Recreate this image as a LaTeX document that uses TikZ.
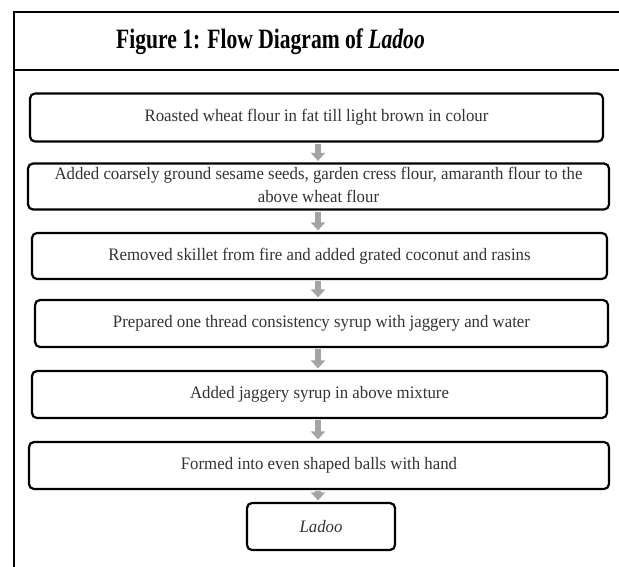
\documentclass[tikz,border=0pt]{standalone}
\usepackage{fontspec}
\setmainfont{Liberation Serif}
\newfontfamily\titlefont[FakeStretch=0.77]{Liberation Serif}
\newfontfamily\boxfont[FakeStretch=0.96]{Liberation Serif}
\usetikzlibrary{arrows.meta}
\definecolor{txtgray}{HTML}{333333}
\definecolor{arrgray}{HTML}{A4A4A4}
\tikzset{
  stepbox/.style={draw=black, line width=2.2pt, rounded corners=5pt, fill=white,
    inner sep=0pt, text=txtgray, font=\boxfont\fontsize{17.5}{23}\selectfont, align=center},
  flowarr/.style={draw=arrgray, line width=6pt, shorten >=1.5pt,
    -{Triangle[width=14pt,length=8pt]}},
  frameline/.style={line width=1.3pt, draw=black}
}
\begin{document}
\begin{tikzpicture}[x=1pt,y=-1pt]
\useasboundingbox (0,0) rectangle (619,567);
% frame
\coordinate (ftl) at (14,12);
\coordinate (ftr) at (619,12);
\coordinate (fbl) at (14,567);
\coordinate (fsl) at (14,70);
\coordinate (fsr) at (619,70);
\draw[frameline] (fbl) -- (ftl) -- (ftr);
\draw[frameline] (fsl) -- (fsr);
\node (title) at (270.5,42) {\titlefont\fontsize{28}{32}\selectfont\bfseries Figure 1: Flow Diagram of \textit{Ladoo}};
% boxes
\node[stepbox, minimum width=573pt, minimum height=48pt] (b1) at (316.5,117.5) {Roasted wheat flour in fat till light brown in colour};
\node[stepbox, minimum width=581pt, minimum height=45pt] (b2) at (318.5,186.5) {\begin{tabular}{@{}c@{}}Added coarsely ground sesame seeds, garden cress flour, amaranth flour to the\\ above wheat flour\end{tabular}};
\node[stepbox, minimum width=575pt, minimum height=46pt] (b3) at (319.5,256) {Removed skillet from fire and added grated coconut and rasins};
\node[stepbox, minimum width=573pt, minimum height=47pt] (b4) at (321.5,323.5) {Prepared one thread consistency syrup with jaggery and water};
\node[stepbox, minimum width=575pt, minimum height=47pt] (b5) at (319.5,394.5) {Added jaggery syrup in above mixture};
\node[stepbox, minimum width=580pt, minimum height=47pt] (b6) at (319,465.5) {Formed into even shaped balls with hand};
\node[stepbox, minimum width=148pt, minimum height=47pt] (b7) at (321,526.5) {\itshape Ladoo};
% arrows
\coordinate (ax) at (318,0);
\draw[flowarr] ([yshift=-1pt]b1.south -| ax) -- (b2.north -| ax);
\draw[flowarr] ([yshift=-1pt]b2.south -| ax) -- (b3.north -| ax);
\draw[flowarr] ([yshift=-1pt]b3.south -| ax) -- (b4.north -| ax);
\draw[flowarr] ([yshift=-1pt]b4.south -| ax) -- (b5.north -| ax);
\draw[flowarr] ([yshift=-1pt]b5.south -| ax) -- (b6.north -| ax);
\draw[flowarr] ([yshift=-1pt]b6.south -| ax) -- (b7.north -| ax);
\end{tikzpicture}
\end{document}
